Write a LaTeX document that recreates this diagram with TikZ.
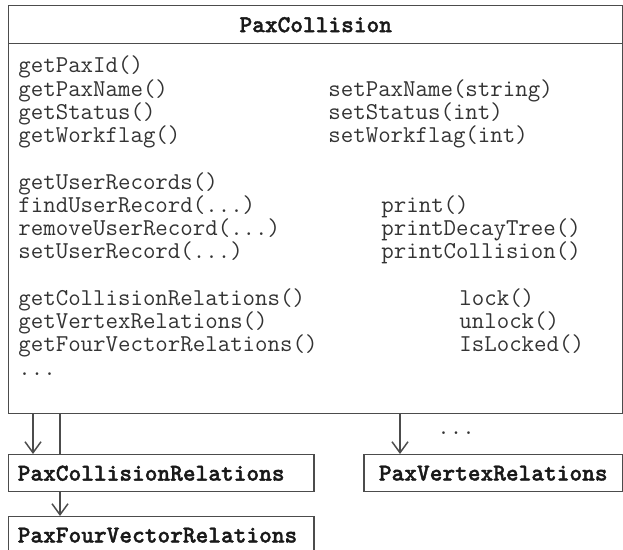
\documentclass[tikz,border=0pt]{standalone}
\usepackage{fontspec}
\newfontface\cnamefont{lmmonolt10-bold.otf}[FakeBold=1.6]
\usetikzlibrary{arrows.meta}

\tikzset{
  classbox/.style={draw=black!70, line width=0.75pt, inner sep=0pt},
  meth/.style={anchor=base west, inner sep=0pt, text=black!80, font=\fontsize{12.1pt}{13pt}\ttfamily},
  cname/.style={font=\fontsize{12.1pt}{13pt}\cnamefont, text=black!90},
  relbox/.style={classbox, cname, minimum height=18.5pt, inner xsep=4.5pt, text width=143.5pt, align=left},
  uses/.style={draw=black!70, line width=0.75pt, -{Straight Barb[length=5.5pt,width=8pt]}},
  link/.style={draw=black!70, line width=0.75pt}
}

\begin{document}
\begin{tikzpicture}[x=0.5pt, y=-0.5pt]
\useasboundingbox (0,0) rectangle (623,550);

% the class and its methods
\node[classbox, anchor=north west, minimum width=307pt, minimum height=204pt] (pax) at (8,5) {};
\node[classbox, cname, anchor=north west, minimum width=307pt, minimum height=19pt] (paxhead) at (8,5) {PaxCollision};
\foreach \k/\t in {0/getPaxId(), 1/getPaxName(), 2/getStatus(), 3/getWorkflag(), 5/getUserRecords(), 6/{findUserRecord(...)}, 7/{removeUserRecord(...)}, 8/{setUserRecord(...)}, 10/getCollisionRelations(), 11/getVertexRelations(), 12/getFourVectorRelations(), 13/{...}}
    \node[meth] (left\k) at (18,{73+23.25*\k}) {\t};
\foreach \x/\k/\t in {328/1/setPaxName(string), 328/2/setStatus(int), 328/3/setWorkflag(int), 381/6/print(), 381/7/printDecayTree(), 381/8/printCollision(), 459/10/lock(), 459/11/unlock(), 459/12/IsLocked()}
    \node[meth] (right\k) at (\x,{73+23.25*\k}) {\t};

% relation classes
\node[relbox, anchor=north west] (colrel) at (8,454) {PaxCollisionRelations};
\node[relbox, anchor=north west] (fourrel) at (8,516) {PaxFourVectorRelations};
\node[relbox, anchor=north west, text width=120.5pt, align=center] (vtxrel) at (363,454) {PaxVertexRelations};
\node[meth] (more) at (437,435) {...};

\draw[uses] ([xshift=12.5pt]pax.south west) -- ([xshift=12.5pt]colrel.north west);
\draw[link] ([xshift=26pt]colrel.north west) -- ([xshift=26pt]pax.south west);
\draw[uses] ([xshift=26pt]colrel.south west) -- ([xshift=26pt]fourrel.north west);
\coordinate (vtxin) at ([xshift=18.5pt]vtxrel.north west);
\draw[uses] (vtxin |- pax.south) -- (vtxin);
\end{tikzpicture}
\end{document}
